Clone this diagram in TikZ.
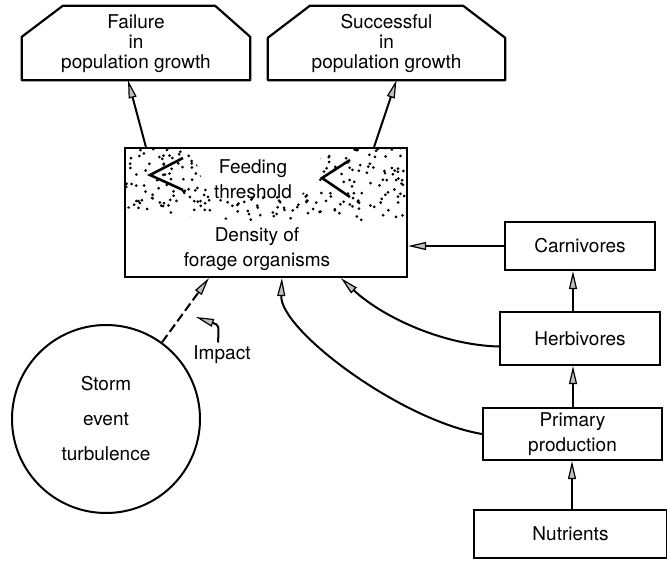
\documentclass[tikz,border=0pt]{standalone}
\usepackage{fontspec}
\setmainfont{TeX Gyre Heros}
\usetikzlibrary{calc,arrows.meta}
\tikzset{
  box/.style={draw,line width=2.2pt,minimum width=#1,inner sep=0pt},
  outcome/.style={minimum width=#1,minimum height=74pt,inner sep=0pt,align=center,font=\fontsize{19}{20}\selectfont},
  rim/.style={line width=2.2pt,line join=round},
  label/.style={align=center,font=\fontsize{19}{25}\selectfont},
  stream/.style={line width=2pt,-{Triangle[length=18pt,width=8pt,fill=gray!50,line width=1.2pt]}},
  chevron/.style={line width=2.6pt}
}
\begin{document}
\begin{tikzpicture}[x=1pt,y=-1pt,font=\fontsize{19}{25}\selectfont]
      \useasboundingbox (0,0) rectangle (667,562);

      % outcomes
      \node[outcome=228pt] (failure) at (136,43) {\\[-5pt]Failure\\in\\population growth};
      \node[outcome=237pt] (success) at (386.5,43) {\\[-5pt]Successful\\in\\population growth};
      \draw[rim] (failure.south west) -- ($(failure.north west)+(0,31)$) -- ($(failure.north west)+(41,0)$)
        -- ($(failure.north east)+(-35,0)$) -- ($(failure.north east)+(0,31)$) -- (failure.south east) -- cycle;
      \draw[rim] (success.south west) -- ($(success.north west)+(0,32)$) -- ($(success.north west)+(42,0)$)
        -- ($(success.north east)+(-42,0)$) -- ($(success.north east)+(0,32)$) -- (success.south east) -- cycle;

      % stippled threshold zone
      \begin{scope}
        \clip (125,148) -- (195,148) .. controls (198,175) .. (215,196) -- (300,196)
          .. controls (318,180) .. (322,148) -- (407,148) -- (407,218)
          .. controls (330,226) and (250,226) .. (125,208) -- cycle;
        \pgfmathsetseed{11}
        \foreach \i in {1,...,320}
          \fill ({266+141*rand},{183+37*rand}) circle (1.5pt);
      \end{scope}
      \draw[chevron] (183,158) -- (150,175) -- (183,190);
      \draw[chevron] (350,160) -- (322,178) -- (350,197);

      \node[box=282pt,minimum height=129pt] (forage) at (266,212.5) {};
      \node[label] (threshold) at (253,179) {Feeding\\threshold};
      \node[label] (density) at (257,249) {Density of\\forage organisms};

      % food chain
      \node[box=150pt,minimum height=48pt] (carnivores) at (580,246) {Carnivores};
      \node[box=160pt,minimum height=53pt] (herbivores) at (580,338.5) {Herbivores};
      \node[box=179pt,minimum height=52pt,label] (primary) at (572.5,434) {Primary\\production};
      \node[box=193pt,minimum height=48pt] (nutrients) at (570.5,534) {Nutrients};

      % storm
      \node[draw,circle,line width=2pt,minimum size=188pt,align=center,
        font=\fontsize{19}{35}\selectfont] (storm) at (106,419) {Storm\\event\\turbulence};
      \node (impact) at (222,355) {Impact};

      \draw[stream] (nutrients.north -| 572,0) -- (primary.south -| 572,0);
      \draw[stream] (primary.north -| 573,0) -- (herbivores.south -| 573,0);
      \draw[stream] (herbivores.north -| 573,0) -- (carnivores.south -| 573,0);
      \draw[stream] (carnivores.west) -- (carnivores.west -| forage.east);
      \draw[stream] ([yshift=-8pt]herbivores.west) .. controls (440,345) and (380,315) .. ([xshift=217pt]forage.south west);
      \draw[stream] (primary.west) .. controls (400,420) and (280,330) .. ([xshift=158pt]forage.south west);
      \draw[stream,dashed,dash pattern=on 9pt off 4pt] (storm) -- ([xshift=85pt]forage.south west);
      \draw[stream] ([xshift=-4pt]impact.north) .. controls (219,325) .. (196,317);

      \draw[stream] ([xshift=22pt]forage.north west) -- ([xshift=-8pt]failure.south);
      \draw[stream] ([xshift=-34pt]forage.north east) -- ([xshift=10pt]success.south);
    \end{tikzpicture}
\end{document}
